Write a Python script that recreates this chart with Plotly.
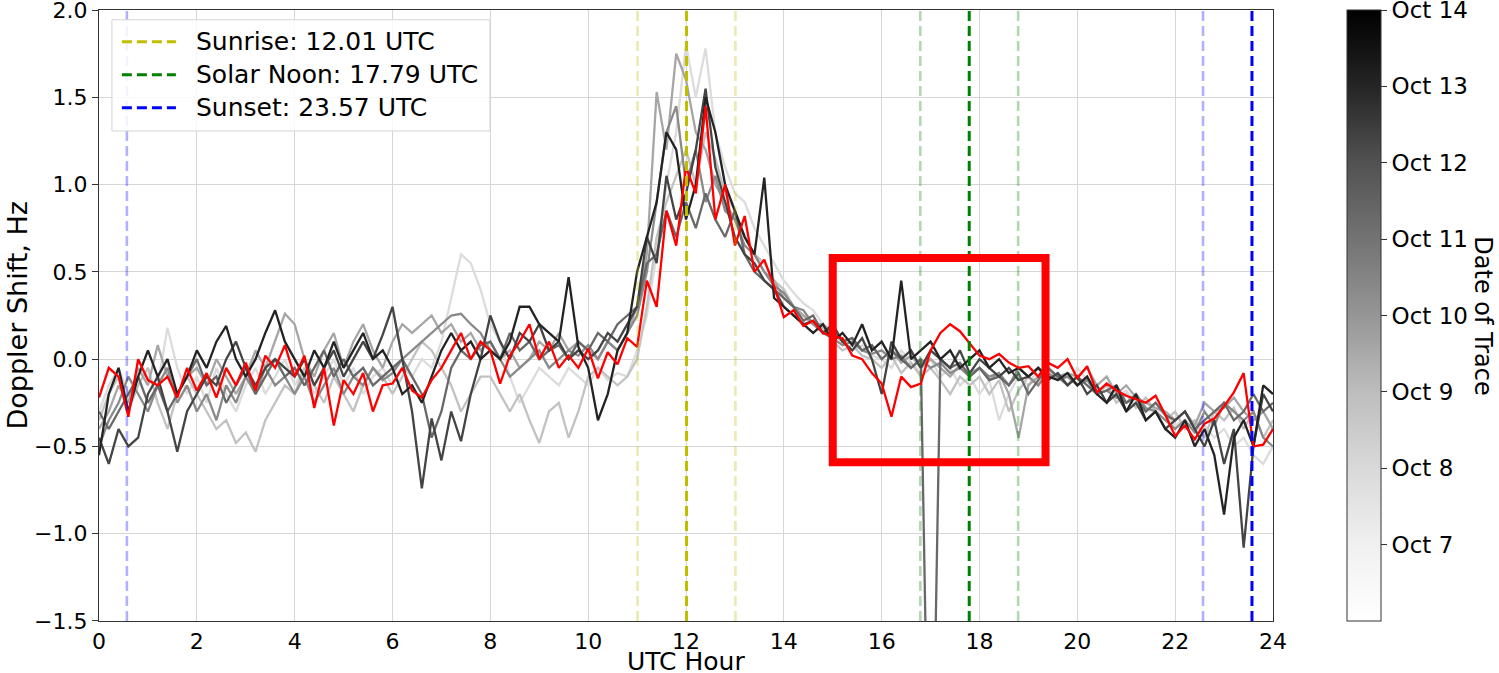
import numpy as np
import plotly.graph_objects as go

# ---------------- data ----------------
STEP_H = 0.2
HOURS = [round(i * STEP_H, 1) for i in range(121)]

DAYS = [7, 8, 9, 10, 11, 12, 13]
DAY_COLORS = ["#dcdcdc", "#c2c2c2", "#a6a6a6", "#8a8a8a", "#686868", "#444444", "#232323"]

OCT07 = [-0.3, -0.15, -0.05, -0.2, -0.1, -0.25, -0.15, 0.18, -0.05, -0.2,
         -0.1, -0.25, -0.05, -0.2, -0.3, -0.15, -0.05, -0.2, -0.1, 0.0,
         -0.15, -0.05, -0.2, -0.1, 0.0, -0.15, -0.05, -0.2, -0.1, -0.05,
         -0.15, -0.05, -0.1, 0.0, -0.05, 0.1, 0.35, 0.6, 0.55, 0.4,
         0.2, 0.1, -0.1, -0.25, -0.15, -0.05, -0.1, -0.15, -0.05, -0.1,
         -0.15, -0.05, -0.12, -0.08, -0.1, 0.05, 0.25, 0.6, 1.0, 1.3,
         1.8, 1.5, 1.78, 1.3, 1.1, 0.95, 0.9, 0.75, 0.65, 0.55,
         0.45, 0.38, 0.32, 0.28, 0.2, 0.15, 0.1, 0.05, 0.08, 0.02,
         0.0, -0.05, 0.05, -0.02, -0.08, 0.0, -0.1, -0.05, -0.15, -0.1,
         -0.2, -0.12, -0.35, -0.2, -0.1, -0.15, -0.05, -0.12, -0.08, -0.15,
         -0.05, -0.12, -0.2, -0.15, -0.22, -0.18, -0.25, -0.3, -0.28, -0.32,
         -0.38, -0.35, -0.42, -0.38, -0.45, -0.4, -0.5, -0.45, -0.55, -0.6, -0.5]

OCT08 = [-0.35, -0.2, -0.1, -0.3, -0.15, -0.05, -0.25, -0.4, -0.2, -0.1,
         -0.2, -0.3, -0.4, -0.35, -0.48, -0.42, -0.53, -0.35, -0.25, -0.15,
         -0.2, -0.05, -0.15, -0.25, -0.1, -0.2, -0.3, -0.15, -0.05, -0.1,
         -0.2, -0.1, 0.0, 0.1, 0.05, -0.05, -0.15, -0.3, -0.2, -0.1,
         -0.1, -0.2, -0.3, -0.2, -0.35, -0.48, -0.3, -0.25, -0.45, -0.3,
         -0.1, -0.05, -0.1, -0.15, -0.1, 0.0, 0.3, 0.7, 0.9, 1.05,
         1.2, 1.0, 1.3, 1.15, 0.95, 0.85, 0.7, 0.6, 0.55, 0.45,
         0.4, 0.3, 0.25, 0.2, 0.18, 0.1, 0.05, 0.08, 0.02, 0.0,
         -0.05, 0.02, -0.08, -0.02, -0.1, -0.05, -0.12, -0.2, -0.1, -0.15,
         -0.1, -0.2, -0.12, -0.3, -0.18, -0.1, -0.15, -0.05, -0.12, -0.1,
         -0.15, -0.1, -0.2, -0.15, -0.25, -0.2, -0.28, -0.22, -0.3, -0.35,
         -0.3, -0.4, -0.35, -0.45, -0.3, -0.35, -0.28, -0.4, -0.3, -0.45, -0.35]

OCT09 = [-0.4, -0.3, -0.15, -0.25, -0.05, -0.15, 0.08, -0.1, -0.2, -0.1,
         -0.05, -0.15, 0.0, -0.1, -0.2, -0.1, 0.05, -0.05, 0.1, 0.26,
         0.2, 0.0, -0.1, 0.05, 0.15, -0.05, 0.1, 0.2, 0.05, -0.05,
         0.1, 0.2, 0.15, 0.2, 0.25, 0.15, 0.2, 0.1, 0.15, 0.05,
         0.1, 0.0, 0.05, -0.05, 0.0, 0.1, 0.05, 0.15, 0.05, 0.1,
         0.05, 0.0, 0.1, 0.05, 0.15, 0.3, 0.6, 1.53, 1.2, 1.75,
         1.6, 1.3, 1.2, 1.0, 0.9, 0.8, 0.7, 0.6, 0.5, 0.45,
         0.35, 0.3, 0.25, 0.2, 0.2, 0.15, 0.1, 0.12, 0.05, 0.08,
         0.0, 0.05, -0.02, 0.02, -0.05, 0.0, -0.05, -0.1, -0.03, -0.08,
         -0.05, -0.12, -0.08, -0.2, -0.45, -0.15, -0.1, -0.05, -0.1, -0.08,
         -0.1, -0.05, -0.15, -0.1, -0.2, -0.15, -0.22, -0.25, -0.28, -0.3,
         -0.35, -0.3, -0.38, -0.25, -0.3, -0.28, -0.22, -0.3, -0.35, -0.3, -0.4]

OCT10 = [-0.5, -0.35, -0.25, -0.1, -0.2, -0.3, -0.15, -0.05, -0.25, -0.15,
         -0.3, -0.2, -0.35, -0.15, -0.25, -0.1, -0.2, -0.05, -0.15, -0.1,
         -0.2, -0.1, -0.25, -0.15, -0.05, -0.2, -0.1, -0.15, -0.05, -0.12,
         -0.08, 0.0, 0.05, 0.1, 0.15, 0.2, 0.25, 0.26, 0.2, 0.15,
         0.05, 0.0, -0.1, -0.05, 0.0, 0.05, -0.05, 0.0, 0.05, 0.02,
         0.08, 0.0, 0.1, 0.05, 0.15, 0.25, 0.5, 0.9, 1.3, 1.45,
         1.0, 1.2, 0.9, 1.05, 0.85, 0.8, 0.65, 0.6, 0.5, 0.42,
         0.38, 0.3, 0.28, 0.2, 0.15, 0.12, 0.08, 0.1, 0.05, 0.03,
         0.05, 0.0, 0.02, -0.05, 0.0, -0.05, -0.02, -0.08, -0.05, -0.1,
         -0.05, -0.1, -0.08, -0.15, -0.05, -0.1, -0.15, -0.08, -0.12, -0.1,
         -0.15, -0.12, -0.2, -0.18, -0.22, -0.25, -0.2, -0.28, -0.3, -0.35,
         -0.4, -0.35, -0.42, -0.3, -0.38, -0.25, -0.3, -0.35, -0.3, -0.45, -0.5]

OCT11 = [-0.3, -0.4, -0.3, -0.2, -0.1, -0.25, -0.15, -0.3, -0.2, -0.1,
         0.0, -0.15, -0.1, -0.25, -0.15, -0.05, -0.2, -0.1, 0.0, -0.1,
         -0.05, -0.15, -0.05, 0.05, -0.1, 0.0, -0.1, -0.05, -0.15, -0.1,
         -0.05, 0.0, -0.1, -0.2, -0.45, -0.3, -0.05, 0.05, 0.0, 0.08,
         0.1, 0.0, 0.15, 0.05, 0.1, 0.0, 0.05, 0.08, 0.0, 0.1,
         0.05, 0.15, 0.1, 0.2, 0.25, 0.3, 0.55, 0.6, 0.85, 0.7,
         0.9, 0.75, 0.95, 0.8, 0.7, 0.85, 0.6, 0.5, 0.45, 0.4,
         0.35, 0.3, 0.22, 0.25, 0.15, 0.18, 0.1, 0.12, 0.05, 0.08,
         0.0, 0.05, 0.0, -0.05, 0.0, -3.2, 0.0, -0.05, -0.02, -0.1,
         -0.05, -0.12, -0.1, -0.15, -0.08, -0.2, -0.12, -0.05, -0.1, -0.15,
         -0.1, -0.15, -0.2, -0.18, -0.15, -0.25, -0.22, -0.3, -0.25, -0.32,
         -0.35, -0.3, -0.4, -0.35, -0.3, -0.25, -0.35, -0.3, -0.2, -0.3, -0.25]

OCT12 = [-0.45, -0.6, -0.4, -0.5, -0.45, -0.2, -0.1, -0.3, -0.53, -0.3,
         -0.2, -0.1, -0.15, 0.0, 0.1, -0.05, -0.15, -0.05, 0.0, -0.05,
         -0.1, 0.0, -0.15, -0.05, 0.05, -0.1, 0.0, 0.1, 0.0, 0.14,
         0.3, 0.0, -0.3, -0.74, -0.34, -0.58, -0.3, -0.47, -0.2, 0.0,
         0.25, 0.1, 0.0, 0.15, 0.1, 0.2, 0.05, 0.1, 0.0, 0.05,
         0.0, 0.05, 0.15, 0.1, 0.2, 0.3, 0.7, 0.55, 1.05, 0.8,
         0.95, 1.2, 1.55, 1.1, 0.9, 0.7, 0.6, 0.55, 0.45, 0.4,
         0.3, 0.25, 0.2, 0.22, 0.15, 0.2, 0.1, 0.05, 0.12, 0.0,
         -0.2, 0.1, 0.0, 0.05, -0.05, 0.05, 0.0, -0.05, 0.05, -0.08,
         0.0, -0.05, -0.1, -0.05, -0.12, -0.1, -0.05, -0.12, -0.08, -0.15,
         -0.1, -0.2, -0.15, -0.25, -0.2, -0.3, -0.25, -0.35, -0.3, -0.4,
         -0.35, -0.3, -0.4, -0.5, -0.35, -0.6, -0.4, -1.08, -0.5, -0.2, -0.3]

OCT13 = [-0.55, -0.2, -0.05, -0.3, -0.1, 0.05, -0.1, 0.0, -0.2, -0.1,
         0.05, -0.05, 0.1, 0.19, 0.0, -0.1, 0.0, 0.15, 0.28, 0.1,
         0.0, -0.1, 0.05, -0.05, 0.1, -0.05, 0.05, 0.15, 0.0, 0.05,
         -0.05, -0.2, -0.15, -0.25, -0.1, 0.05, 0.15, 0.05, 0.1, 0.0,
         0.05, 0.0, 0.1, 0.3, 0.3, 0.2, 0.15, 0.1, 0.47, 0.07,
         -0.05, -0.35, -0.2, 0.05, 0.15, 0.5, 0.7, 0.9, 1.3, 1.2,
         0.8, 1.0, 1.5, 1.3, 1.0, 0.85, 0.7, 0.6, 1.04, 0.35,
         0.3, 0.25, 0.2, 0.15, 0.2, 0.1, 0.15, 0.08, 0.2, 0.05,
         0.1, 0.0, 0.45, 0.0, 0.05, 0.1, 0.0, 0.05, -0.05, 0.0,
         0.05, -0.05, 0.0, -0.08, -0.05, -0.1, -0.05, -0.1, -0.12, -0.08,
         -0.15, -0.1, -0.2, -0.25, -0.15, -0.3, -0.2, -0.35, -0.3, -0.4,
         -0.45, -0.35, -0.5, -0.4, -0.55, -0.89, -0.45, -0.35, -0.5, -0.15, -0.2]

OCT14_RED = [-0.22, -0.05, -0.1, -0.33, 0.0, -0.12, -0.15, -0.1, -0.22, -0.05,
             -0.18, -0.08, -0.22, -0.05, -0.15, -0.02, -0.18, 0.02, -0.05, 0.08,
             -0.1, 0.02, -0.28, -0.05, -0.38, -0.12, -0.2, -0.08, -0.3, -0.15,
             -0.14, -0.05, -0.18, -0.22, -0.12, -0.05, 0.05, 0.15, 0.0, 0.1,
             0.05, -0.14, 0.02, 0.1, 0.2, 0.0, 0.1, -0.05, 0.02, -0.05,
             0.06, -0.11, 0.04, -0.03, 0.12, 0.07, 0.45, 0.3, 0.85, 0.65,
             1.1, 0.95, 1.45, 0.8, 1.0, 0.65, 0.82, 0.5, 0.57, 0.42,
             0.24, 0.28, 0.19, 0.22, 0.15, 0.13, 0.12, 0.02, 0.0, -0.08,
             -0.14, -0.33, -0.1, -0.16, -0.14, 0.05, 0.15, 0.2, 0.16, 0.09,
             0.02, 0.0, 0.03, -0.02, -0.05, -0.04, -0.1, -0.02, -0.05, 0.0,
             -0.11, -0.04, -0.19, -0.14, -0.18, -0.21, -0.23, -0.25, -0.21, -0.32,
             -0.44, -0.38, -0.46, -0.37, -0.34, -0.27, -0.19, -0.08, -0.5, -0.49, -0.4]

GRAY_SERIES = [OCT07, OCT08, OCT09, OCT10, OCT11, OCT12, OCT13]
for s in GRAY_SERIES + [OCT14_RED]:
    assert len(s) == len(HOURS), len(s)

EVENT_NAMES = ["Sunrise: 12.01 UTC", "Solar Noon: 17.79 UTC", "Sunset: 23.57 UTC"]
EVENT_TIMES = [12.01, 17.79, 23.57]
EVENT_COLORS = ["#bfbf00", "#008000", "#0000ff"]
FAINT_TIMES = [[11.01, 13.01], [16.79, 18.79], [22.57, 0.57]]  # +/- 1 h

HIGHLIGHT_X = [15.0, 19.35]
HIGHLIGHT_Y = [-0.59, 0.58]

X_RANGE = [0, 24]
Y_RANGE = [-1.5, 2.0]
X_TICKS = list(range(0, 25, 2))
Y_TICKS = [-1.5, -1.0, -0.5, 0.0, 0.5, 1.0, 1.5, 2.0]

CB_DAYS = [7, 8, 9, 10, 11, 12, 13, 14]
CB_LABELS = ["Oct 7", "Oct 8", "Oct 9", "Oct 10", "Oct 11", "Oct 12", "Oct 13", "Oct 14"]
CB_RANGE = [6, 14]
GREYS = [[0, "#ffffff"], [0.125, "#f0f0f0"], [0.25, "#d9d9d9"], [0.375, "#bdbdbd"],
         [0.5, "#969696"], [0.625, "#737373"], [0.75, "#525252"], [0.875, "#252525"],
         [1, "#000000"]]

FONT = "DejaVu Sans"
EPS = 1e-4

# ---------------- figure ----------------
fig = go.Figure()

for series, col in zip(GRAY_SERIES, DAY_COLORS):
    fig.add_trace(go.Scatter(x=HOURS, y=series, mode="lines",
                             line=dict(color=col, width=2.3), showlegend=False,
                             hoverinfo="skip"))

fig.add_trace(go.Scatter(x=HOURS, y=OCT14_RED, mode="lines",
                         line=dict(color="#ff0000", width=2.3), showlegend=False))

DASH = "10px,5px"
for xs, col in zip(FAINT_TIMES, EVENT_COLORS):
    for xv in xs:
        fig.add_trace(go.Scatter(x=[xv, xv], y=Y_RANGE, mode="lines",
                                 line=dict(color=col, width=2.6, dash=DASH),
                                 opacity=0.3, showlegend=False, hoverinfo="skip"))

for name, xv, col in zip(EVENT_NAMES, EVENT_TIMES, EVENT_COLORS):
    fig.add_trace(go.Scatter(x=[xv, xv], y=Y_RANGE, mode="lines", name=name,
                             line=dict(color=col, width=3, dash=DASH), showlegend=False))

# colorbar carrier
fig.add_trace(go.Scatter(
    x=[None], y=[None], mode="markers", showlegend=False,
    marker=dict(color=[CB_RANGE[0]], colorscale=GREYS, cmin=CB_RANGE[0],
                cmax=CB_RANGE[1] + EPS, showscale=True,
                colorbar=dict(
                    x=1.063, xanchor="left", xpad=0, y=0.5, yanchor="middle",
                    len=1.0, lenmode="fraction", thickness=34, ypad=0,
                    outlinewidth=1, outlinecolor="#333333",
                    tickvals=CB_DAYS, ticktext=CB_LABELS, ticks="outside",
                    ticklen=6, tickcolor="#333333", ticklabeloverflow="allow",
                    tickfont=dict(family=FONT, size=23, color="black"),
                ))))

fig.add_shape(type="rect", xref="x", yref="y",
              x0=HIGHLIGHT_X[0], x1=HIGHLIGHT_X[1], y0=HIGHLIGHT_Y[0], y1=HIGHLIGHT_Y[1],
              line=dict(color="#ff0000", width=8), layer="above")

# legend box drawn in paper coordinates (matplotlib-style: long dashed samples)
LEG_BOX = dict(x0=0.011, x1=0.333, y0=0.802, y1=0.984)
LEG_ROWS_Y = [0.948, 0.894, 0.840]
fig.add_shape(type="rect", xref="paper", yref="paper", **LEG_BOX,
              line=dict(color="#d4d4d4", width=1), fillcolor="rgba(255,255,255,0.85)",
              layer="above")
for name, col, yy in zip(EVENT_NAMES, EVENT_COLORS, LEG_ROWS_Y):
    fig.add_shape(type="line", xref="paper", yref="paper", x0=0.0195, x1=0.0655,
                  y0=yy, y1=yy, line=dict(color=col, width=3, dash=DASH), layer="above")
    fig.add_annotation(xref="paper", yref="paper", x=0.0805, y=yy, text=name,
                       showarrow=False, xanchor="left", yanchor="middle",
                       font=dict(family=FONT, size=25, color="black"))

# axis / colorbar titles
fig.add_annotation(xref="paper", yref="paper", x=0.5, y=-0.066, text="UTC Hour",
                   showarrow=False, xanchor="center", yanchor="middle",
                   font=dict(family=FONT, size=25, color="black"))
fig.add_annotation(xref="paper", yref="paper", x=-0.069, y=0.5, text="Doppler Shift, Hz",
                   showarrow=False, textangle=-90, xanchor="center", yanchor="middle",
                   font=dict(family=FONT, size=27, color="black"))
fig.add_annotation(xref="paper", yref="paper", x=1.179, y=0.5, text="Date of Trace",
                   showarrow=False, textangle=90, xanchor="center", yanchor="middle",
                   font=dict(family=FONT, size=24, color="black"))

axis_common = dict(showline=True, linecolor="#333333", linewidth=1.2, mirror=True,
                   tickcolor="#333333",
                   showgrid=True, gridcolor="#d6d6d6", gridwidth=1, zeroline=False,
                   automargin=False, ticklabeloverflow="allow",
                   tickfont=dict(family=FONT, size=22, color="black"))

fig.update_xaxes(range=[X_RANGE[0] - EPS, X_RANGE[1] + EPS], tickvals=X_TICKS,
                 ticks="", **axis_common)
fig.update_yaxes(range=[Y_RANGE[0] - EPS, Y_RANGE[1] + EPS], tickvals=Y_TICKS, tickformat=".1f",
                 ticks="outside", ticklen=6, **axis_common)

fig.update_layout(
    width=1499, height=673,
    margin=dict(l=99, r=226, t=10, b=52, autoexpand=False),
    paper_bgcolor="white", plot_bgcolor="white",
    font=dict(family=FONT, size=22, color="black"),
    showlegend=False,
)

fig.write_html("out.html", config={"displayModeBar": False},
               post_script="document.body.style.margin='0';")
